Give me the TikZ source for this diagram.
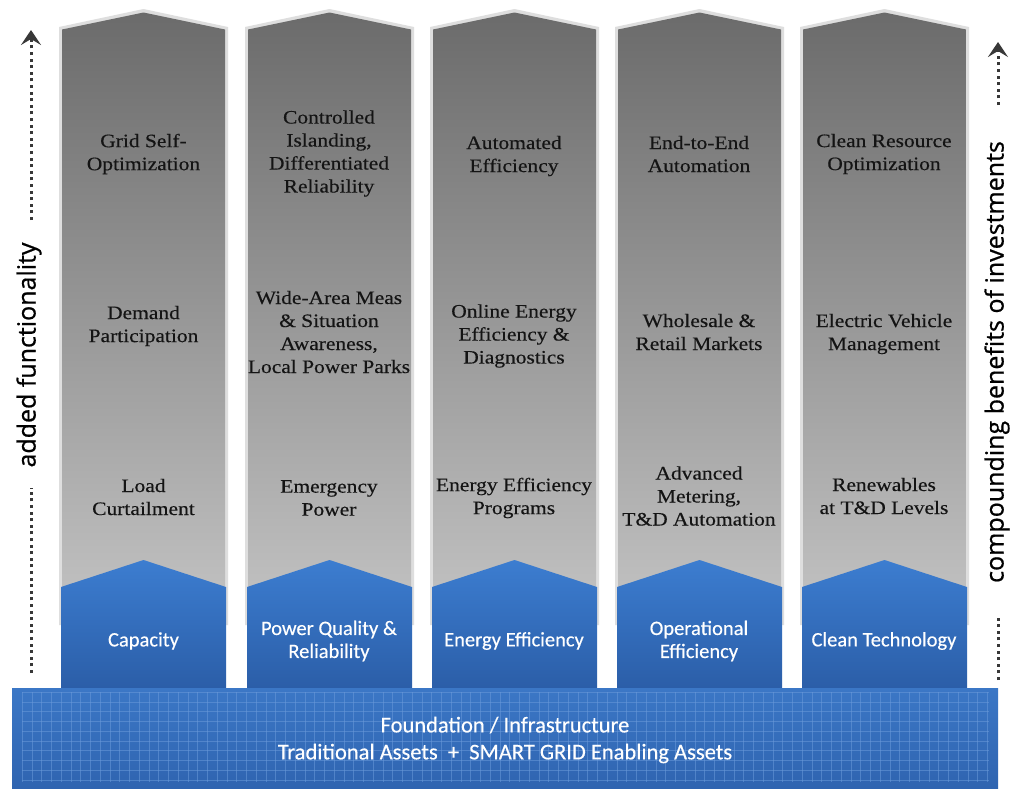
\documentclass[tikz,border=0pt]{standalone}
\usepackage{fontspec}
\setmainfont{Liberation Serif}
\newfontfamily\colfont[FakeStretch=1.13,FakeBold=0.35]{Liberation Serif}
\newfontfamily\lblfont[FakeBold=0.3]{Carlito}
\newfontfamily\sidefont[FakeBold=0.7]{Open Sans}
\usetikzlibrary{arrows.meta}
\definecolor{grayTop}{HTML}{6B6B6B}
\definecolor{grayBot}{HTML}{C4C4C4}
\definecolor{rim}{HTML}{DEDEDE}
\definecolor{blueTop}{HTML}{3C7DD0}
\definecolor{blueBot}{HTML}{2B5EA8}
\definecolor{fndTop}{HTML}{3B77C6}
\definecolor{fndBot}{HTML}{2F64B0}
\definecolor{gridline}{HTML}{6A9ADA}
\definecolor{coltxt}{HTML}{141414}
\tikzset{
  coltext/.style={font=\colfont\fontsize{19}{23}\selectfont, align=center, text=coltxt, inner sep=0pt},
  lbltext/.style={font=\lblfont\fontsize{20.5}{23}\selectfont, align=center, text=white, inner sep=0pt},
  fndtext/.style={font=\lblfont\fontsize{22.5}{27}\selectfont, align=center, text=white, inner sep=0pt},
  sidetext/.style={font=\sidefont\fontsize{25}{28}\selectfont, rotate=90, text=black, inner sep=0pt},
  dotline/.style={draw=black!78, line width=3pt, dash pattern=on 3pt off 3.6pt},
  tipline/.style={dotline, -{Stealth[length=15pt,width=20pt,inset=6pt]}},
  gridstroke/.style={draw=gridline, line width=0.5pt, opacity=0.55},
}
\newcommand\pillar[1]{%
  \fill[rim] (#1,27) -- (#1+84.5,9) -- (#1+169,27) -- (#1+169,625) -- (#1,625) -- cycle;
  \shade[top color=grayTop,bottom color=grayBot] (#1+3,29.5) -- (#1+84.5,12.5) -- (#1+166,29.5) -- (#1+166,625) -- (#1+3,625) -- cycle;
  \shade[top color=blueTop,bottom color=blueBot] (#1+2,587) -- (#1+84.5,560) -- (#1+167,587) -- (#1+167,688) -- (#1+2,688) -- cycle;
}
\begin{document}
\begin{tikzpicture}[x=1pt,y=-1pt]
\useasboundingbox (0,0) rectangle (1010,788);
\fill[white] (0,0) rectangle (1010,788);
% pillars
\pillar{59}
\pillar{245}
\pillar{430}
\pillar{615}
\pillar{800}
% foundation
\shade[top color=fndTop,bottom color=fndBot] (12,688) rectangle (998,788);
\begin{scope}
  \clip (22,692) rectangle (989,782);
  \foreach \i in {0,...,99} \draw[gridstroke] ({22+\i*9.75},692) -- ({22+\i*9.75},782);
  \foreach \j in {0,...,9} \draw[gridstroke] (22,{692+\j*9.75}) -- (989,{692+\j*9.75});
\end{scope}
\node[fndtext] (fnd) at (505,740) {Foundation / Infrastructure\\Traditional Assets\ \ +\ \ SMART GRID Enabling Assets};
% column 1
\node[coltext] (c1a) at (143.5,154) {Grid Self-\\Optimization};
\node[coltext] (c1b) at (143.5,326) {Demand\\Participation};
\node[coltext] (c1c) at (143.5,497) {Load\\Curtailment};
\node[lbltext] (b1) at (143.5,641) {Capacity};
% column 2
\node[coltext] (c2a) at (329,153.5) {Controlled\\Islanding,\\Differentiated\\Reliability};
\node[coltext] (c2b) at (329,332) {Wide-Area Meas\\\& Situation\\Awareness,\\Local Power Parks};
\node[coltext] (c2c) at (329,498) {Emergency\\Power};
\node[lbltext] (b2) at (329,641) {Power Quality \&\\Reliability};
% column 3
\node[coltext] (c3a) at (514,156) {Automated\\Efficiency};
\node[coltext] (c3b) at (514,336) {Online Energy\\Efficiency \&\\Diagnostics};
\node[coltext] (c3c) at (514,498) {Energy Efficiency\\Programs};
\node[lbltext] (b3) at (514,641) {Energy Efficiency};
% column 4
\node[coltext] (c4a) at (699,154) {End-to-End\\Automation};
\node[coltext] (c4b) at (699,332) {Wholesale \&\\Retail Markets};
\node[coltext] (c4c) at (699,496) {Advanced\\Metering,\\T\&D Automation};
\node[lbltext] (b4) at (699,641) {Operational\\Efficiency};
% column 5
\node[coltext] (c5a) at (884,154) {Clean Resource\\Optimization};
\node[coltext] (c5b) at (884,334) {Electric Vehicle\\Management};
\node[coltext] (c5c) at (884,496) {Renewables\\at T\&D Levels};
\node[lbltext] (b5) at (884,641) {Clean Technology};
% side labels
\node[sidetext] (lefttxt) at (29,355) {added functionality};
\node[sidetext] (righttxt) at (997,362) {compounding benefits of investments};
\coordinate (la1) at (31,220);
\coordinate (la2) at (31,30);
\coordinate (lb1) at (31,673);
\coordinate (lb2) at (31,488);
\coordinate (ra1) at (998,105);
\coordinate (ra2) at (998,42);
\coordinate (rb1) at (998,680);
\coordinate (rb2) at (998,617);
\draw[tipline] (la1) -- (la2);
\draw[dotline] (lb1) -- (lb2);
\draw[tipline] (ra1) -- (ra2);
\draw[dotline] (rb1) -- (rb2);
\end{tikzpicture}
\end{document}
